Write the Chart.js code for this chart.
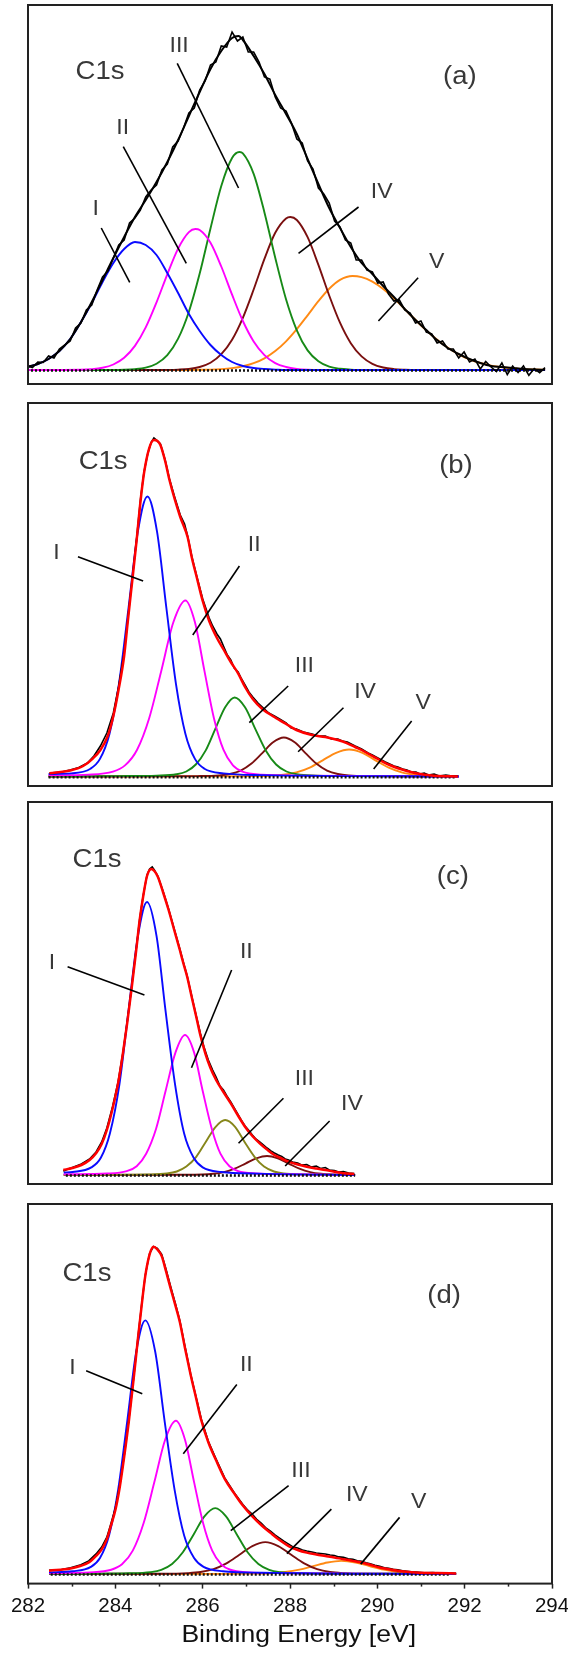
<!DOCTYPE html>
<html><head><meta charset="utf-8">
<script src="https://cdn.jsdelivr.net/npm/chart.js@4.4.1/dist/chart.umd.min.js"></script>
<style>
html,body{margin:0;padding:0;background:#fff;}
body{width:568px;height:1660px;position:relative;overflow:hidden;}
canvas{position:absolute;left:0;}
</style></head><body>
<canvas id="ca" width="568" height="394" style="top:0px"></canvas>
<canvas id="cb" width="568" height="400" style="top:394px"></canvas>
<canvas id="cc" width="568" height="400" style="top:794px"></canvas>
<canvas id="cd" width="600" height="466" style="top:1194px"></canvas>
<script>
// ---------- x axis ----------
const xMin = 282, xMax = 294;          // labelled axis
const xTickStep = 2;
const xTitle = 'Binding Energy [eV]';
const curveMin = 282.023, curveMax = 294.161;   // range spanned by the spectra inside each frame

// ---------- panel (a) ----------
const dataA = [[282,18],[282.125,16.5],[282.25,22],[282.375,21.5],[282.5,28],[282.625,26],[282.75,35],[282.875,39],[283,43],[283.125,56],[283.25,61],[283.375,74],[283.5,79],[283.625,94],[283.75,107],[283.875,113],[284,126],[284.125,139],[284.25,144],[284.375,161],[284.5,166],[284.625,174],[284.75,187],[284.875,194],[285,199],[285.125,214],[285.25,220],[285.375,237],[285.5,243],[285.625,256],[285.75,271],[285.875,276],[286,294],[286.125,303],[286.25,319],[286.375,322],[286.5,338],[286.625,337],[286.75,352],[286.875,343],[287,347],[287.125,332],[287.25,332],[287.375,322],[287.5,307],[287.625,305],[287.75,287],[287.875,276],[288,273],[288.125,261],[288.25,245],[288.375,241],[288.5,223],[288.625,215],[288.75,196],[288.875,190],[289,181],[289.125,163],[289.25,157],[289.375,144],[289.5,141],[289.625,124],[289.75,124],[289.875,114],[290,112],[290.125,101],[290.25,102],[290.375,90],[290.5,83],[290.625,84],[290.75,74],[290.875,71],[291,61],[291.125,63],[291.25,52],[291.375,50],[291.5,41],[291.625,43],[291.75,35],[291.875,35],[292,26],[292.125,32],[292.25,22],[292.375,25],[292.5,15],[292.625,22.5],[292.75,17],[292.875,12.5],[293,21],[293.125,9.5],[293.25,18],[293.375,11.5],[293.5,18],[293.625,8.7],[293.75,15.5],[293.875,11.4],[294,16.3]];
const fitA = [[282,17],[282.25,20],[282.5,25],[282.75,33],[283,45],[283.25,62],[283.5,82],[283.75,104],[284,126],[284.25,147],[284.5,167],[284.75,184],[285,202],[285.25,222],[285.5,244],[285.75,268],[286,292],[286.25,315],[286.5,333],[286.75,346],[286.9,348],[287,344],[287.25,328],[287.5,310],[287.75,289],[288,270],[288.25,250],[288.5,225],[288.75,200],[289,176],[289.25,156],[289.5,137],[289.75,121],[290,110],[290.25,98],[290.5,87],[290.75,75],[291,64],[291.25,54],[291.5,44],[291.75,36],[292,30],[292.25,25],[292.5,21],[292.75,18],[293,17],[293.25,16],[293.5,15],[293.75,14.5],[294,14.3]];
const pkA1 = [[282,17],[282.25,20],[282.5,25],[282.75,33],[283,45],[283.25,62],[283.5,81],[283.75,102],[284,121],[284.25,135],[284.5,142],[284.75,139],[285,129],[285.25,111],[285.5,91],[285.75,70],[286,53],[286.25,39],[286.5,29],[286.75,22],[287,18],[287.25,16],[287.5,15],[287.75,14.4],[288,14],[294,14]];
const pkA2 = [[282,14],[283.25,14.3],[283.5,14.8],[283.75,16.2],[284,19.5],[284.25,26.2],[284.5,38.1],[284.75,56.6],[285,81.6],[285.25,109.7],[285.5,135.4],[285.75,151.9],[285.9,155],[286,154],[286.25,141.3],[286.5,117.5],[286.75,89.3],[287,63],[287.25,42.6],[287.5,28.9],[287.75,20.9],[288,17],[288.25,15.1],[288.5,14.3],[288.75,14],[294,14]];
const pkA3 = [[282,14],[284,14],[284.25,14.2],[284.5,14.8],[284.75,16.3],[285,20.2],[285.25,28.8],[285.5,45.3],[285.75,72.3],[286,110.4],[286.25,155.5],[286.5,198],[286.75,226],[286.92,232],[287,230.7],[287.25,210.2],[287.5,171.6],[287.75,126.3],[288,84.8],[288.25,53.7],[288.5,33.6],[288.75,22.7],[289,17.3],[289.25,15.2],[289.5,14.4],[289.75,14],[294,14]];
const pkA4 = [[282,14],[285,14],[285.25,14.1],[285.5,14.4],[285.75,15.1],[286,17],[286.25,21.2],[286.5,29.8],[286.75,44.3],[287,66.2],[287.25,94.5],[287.5,125.1],[287.75,151.2],[288,165.6],[288.1,167],[288.25,164],[288.5,146.8],[288.75,119.1],[289,88.5],[289.25,61.3],[289.5,40.8],[289.75,27.6],[290,20.2],[290.25,16.5],[290.5,14.9],[290.75,14.3],[291,14],[294,14]];
const pkA5 = [[282,14],[285.75,14],[286,14.2],[286.25,14.4],[286.5,14.9],[286.75,15.9],[287,17.7],[287.25,20.8],[287.5,25.7],[287.75,32.9],[288,42.7],[288.25,54.9],[288.5,68.7],[288.75,82.8],[289,95.2],[289.25,104.1],[289.54,108],[289.75,106.8],[290,102.3],[290.25,95],[290.5,85.6],[290.75,74.9],[291,64],[291.25,53.6],[291.5,44.2],[291.75,36.2],[292,29.7],[292.25,24.7],[292.5,21],[292.75,18.4],[293,16.7],[293.25,15.6],[293.5,14.9],[293.75,14.5],[294,14.3]];
const baseA = [[282,13.5],[293.9,13.5]];
const textA = [['C1s',283.65,311.7],['(a)',291.89,307],['I',283.55,175],['II',284.17,255.7],['III',285.46,338.3],['IV',290.1,192],['V',291.36,122]];
const leadA = [[283.72,156,284.38,101.7],[284.23,237.3,285.69,120.7],[285.48,320.7,286.90,196],[289.68,177,288.29,130.7],[291.06,106.3,290.14,63]];

// ---------- panel (b) ----------
const dataB = [[282.52,13],[282.8,14],[283.0,16],[283.2,18.5],[283.4,23],[283.55,30],[283.7,40],[283.85,53],[284.0,73],[284.12,99],[284.25,133],[284.33,165],[284.45,212],[284.54,248],[284.63,287],[284.71,314],[284.8,333],[284.88,344],[284.94,348],[285.0,346],[285.09,342],[285.2,326],[285.3,307],[285.42,289],[285.55,271],[285.65,262],[285.72,250],[285.82,229],[285.93,210],[286.07,187],[286.22,168],[286.3,160],[286.4,152],[286.48,147],[286.56,139],[286.64,131],[286.72,126],[286.8,118],[286.89,114],[286.97,107],[287.05,101],[287.14,94],[287.23,89],[287.35,83],[287.45,79],[287.6,73],[287.73,70],[287.85,67],[288.0,63],[288.12,58],[288.24,57],[288.4,54],[288.6,52],[288.75,50],[288.91,50],[289.05,47],[289.2,47],[289.3,45],[289.42,44],[289.6,40],[289.75,37],[289.9,33],[290.0,31],[290.17,27],[290.3,24],[290.4,22],[290.5,20],[290.59,19],[290.7,17],[290.8,16],[290.9,14],[291.01,14],[291.1,12],[291.2,13],[291.3,11],[291.43,12],[291.55,10],[291.7,11],[291.85,10],[291.98,10]];
const fitB = [[282.52,12.7],[283.0,15.5],[283.3,20],[283.53,27.7],[283.7,36],[283.87,50],[284.0,70],[284.12,96],[284.25,130],[284.33,162.7],[284.45,210],[284.54,246],[284.63,285],[284.71,312.7],[284.83,337.7],[284.94,346],[285.02,345],[285.09,341],[285.2,325],[285.30,306],[285.42,287],[285.55,269],[285.72,249],[285.82,228],[285.93,209],[286.07,185],[286.22,165],[286.4,148],[286.56,136],[286.72,124],[286.89,112.7],[287.05,99],[287.23,87],[287.45,77],[287.73,69],[288.0,62],[288.24,56],[288.6,51],[288.91,49],[289.2,46],[289.42,42.7],[289.6,39],[289.75,36],[290.0,30],[290.17,26],[290.4,21],[290.59,17.7],[290.8,15],[291.01,12.7],[291.43,10.2],[291.98,9.5]];
const pkB1 = [[282.5,12],[283.03,12.6],[283.47,17.3],[283.69,27.1],[283.91,52.1],[284.13,102.2],[284.35,177.5],[284.57,254.8],[284.79,289.5],[285.01,254.8],[285.23,177.5],[285.45,102.2],[285.67,52.1],[285.89,27.1],[286.11,17.3],[286.55,12.6],[287.43,10.9],[292,9.5]];
const pkB2 = [[282.5,10.7],[283.43,11.4],[283.99,14.4],[284.27,20.6],[284.55,36.3],[284.83,67.8],[285.11,115.1],[285.39,163.7],[285.67,185.5],[285.89,163.7],[286.11,115.1],[286.33,67.8],[286.55,36.3],[286.77,20.6],[286.99,14.4],[287.43,11.4],[288.31,10.4],[292,9.5]];
const pkB3 = [[282.5,9.6],[284.11,9.9],[285.01,10.4],[285.46,11.7],[285.69,14.5],[285.91,21.5],[286.14,35.6],[286.36,56.9],[286.59,78.7],[286.81,88.5],[287.05,78.7],[287.29,56.9],[287.53,35.6],[287.77,21.5],[288.01,14.5],[288.25,11.7],[288.73,10.4],[289.69,9.9],[292,9.5]];
const pkB4 = [[282.5,9.5],[284.95,9.7],[285.95,9.9],[286.45,10.6],[286.7,12],[286.95,15.4],[287.2,22.4],[287.45,32.9],[287.7,43.7],[287.95,48.5],[288.2,43.7],[288.45,32.9],[288.7,22.4],[288.95,15.4],[289.2,12],[289.45,10.6],[289.95,9.9],[290.95,9.7],[292,9.5]];
const pkB5 = [[282.5,9.5],[285.8,9.6],[287.02,9.8],[287.63,10.3],[287.94,11.2],[288.24,13.6],[288.55,18.4],[288.85,25.7],[289.16,33.2],[289.46,36.5],[289.77,33.2],[290.07,25.7],[290.38,18.4],[290.68,13.6],[290.99,11.2],[291.29,10.3],[291.9,9.8],[292,9.7]];
const baseB = [[282.5,8.8],[291.95,8.8]];
const textB = [['C1s',283.72,324.3],['(b)',291.8,320],['I',282.65,232.7],['II',287.18,241],['III',288.33,120],['IV',289.72,94.3],['V',291.05,82.7]];
const leadB = [[283.18,229.3,284.69,205],[286.92,220,285.84,151],[288.05,100,287.15,63.3],[289.33,78.3,288.28,34.3],[290.91,65,290.03,17]];

// ---------- panel (c) ----------
const dataC = [[282.84,13],[283.05,16.5],[283.26,20],[283.45,25],[283.6,32],[283.73,42],[283.85,56],[283.98,77],[284.11,102],[284.22,131],[284.32,162],[284.43,199],[284.53,235],[284.61,265],[284.69,288],[284.78,309],[284.84,315],[284.9,317],[284.95,314],[285.03,308],[285.15,293],[285.28,275],[285.41,255],[285.54,235],[285.62,222],[285.71,208],[285.82,187],[285.92,168],[286.02,150],[286.1,137],[286.2,124],[286.3,114],[286.38,107],[286.47,98],[286.55,94],[286.63,88],[286.72,82],[286.8,76],[286.88,70],[286.96,64],[287.05,58],[287.13,54],[287.22,49],[287.3,45],[287.39,42],[287.48,39],[287.56,36],[287.65,33],[287.73,31],[287.82,29],[287.9,27.5],[287.98,25],[288.06,24],[288.15,22],[288.27,21],[288.36,19],[288.48,19.5],[288.58,17],[288.7,18],[288.8,15.5],[288.91,16.5],[289.0,14],[289.12,13.5],[289.22,12],[289.33,12.5],[289.45,11],[289.58,10.5]];
const fitC = [[282.84,14],[283.05,16],[283.26,19],[283.45,24],[283.6,30.7],[283.73,40],[283.85,54],[283.98,75],[284.11,100.7],[284.22,130],[284.32,160.7],[284.43,198],[284.53,234],[284.61,264],[284.69,287.3],[284.78,308],[284.88,315],[284.95,313],[285.03,307.3],[285.15,292],[285.28,274],[285.41,254],[285.54,234],[285.62,221],[285.71,207.3],[285.82,186],[285.92,167.3],[286.02,148],[286.13,130.7],[286.25,116],[286.38,104],[286.55,92],[286.72,80.7],[286.88,69],[287.05,57.3],[287.22,48],[287.39,40.7],[287.56,34.5],[287.73,29],[287.9,25.5],[288.06,22.3],[288.27,19.5],[288.48,17.3],[288.7,15.5],[288.91,14],[289.12,12.2],[289.33,10.7],[289.58,10]];
const pkC1 = [[282.85,11.5],[283.06,12],[283.49,16.6],[283.71,26.2],[283.92,50.5],[284.14,99.4],[284.35,172.8],[284.57,248.1],[284.78,282],[285.0,248.1],[285.21,172.8],[285.43,99.4],[285.64,50.5],[285.86,26.2],[286.07,16.6],[286.5,12],[287.36,10.4],[289.6,9]];
const pkC2 = [[282.85,9.7],[283.86,10.5],[284.31,12.9],[284.54,17.8],[284.76,30.3],[284.99,55.3],[285.21,93],[285.44,131.6],[285.66,149],[285.87,131.6],[286.07,93],[286.28,55.3],[286.48,30.3],[286.69,17.8],[286.89,12.9],[287.3,10.5],[288.12,9.7],[289.6,9]];
const pkC3 = [[282.85,9.1],[283.89,9.3],[284.79,9.6],[285.24,10.5],[285.47,12.5],[285.69,17.4],[285.92,27.2],[286.14,42],[286.37,57.2],[286.59,64],[286.82,57.2],[287.04,42],[287.27,27.2],[287.49,17.4],[287.72,12.5],[287.94,10.5],[288.39,9.6],[289.29,9.3],[289.6,9.1]];
const pkC4 = [[282.85,9],[285.56,9.2],[286.06,9.5],[286.31,10.2],[286.56,11.9],[286.81,15.3],[287.06,20.4],[287.31,25.6],[287.56,28],[287.81,25.6],[288.06,20.4],[288.31,15.3],[288.56,11.9],[288.81,10.2],[289.06,9.5],[289.56,9.2],[289.6,9.2]];
const baseC = [[282.9,8.5],[289.6,8.5]];
const textC = [['C1s',283.58,324],['(c)',291.73,306.7],['I',282.55,220.7],['II',287.0,231.7],['III',288.33,105.3],['IV',289.42,79.7]];
const leadC = [[282.94,217.3,284.72,189],[286.74,214,285.81,116.3],[287.94,85.7,286.90,40.7],[289.01,63,287.98,18]];

// ---------- panel (d) ----------
const dataD = [[282.51,13.5],[282.8,14.2],[283.01,16],[283.25,19],[283.43,23],[283.6,30],[283.73,37],[283.85,47],[283.94,60],[284.05,77],[284.15,100],[284.25,129],[284.36,166],[284.47,208],[284.57,249],[284.66,284],[284.74,312],[284.84,334],[284.93,341],[285.02,339],[285.12,333],[285.22,318],[285.33,300],[285.44,283],[285.54,266],[285.66,240],[285.79,212],[285.92,188],[286.04,166],[286.2,144],[286.38,126],[286.58,107],[286.8,92],[287.0,80],[287.1,75],[287.22,70],[287.32,65],[287.43,61],[287.54,56],[287.64,53],[287.75,49],[287.85,46],[287.95,43],[288.06,40],[288.16,37],[288.27,36],[288.38,34],[288.48,33],[288.6,32],[288.7,31],[288.8,30.5],[288.91,30],[289.02,29],[289.12,28.5],[289.22,27],[289.33,26.5],[289.44,25],[289.55,24.5],[289.65,23],[289.75,22.5],[289.85,21],[289.95,20],[290.06,18.5],[290.17,17.5],[290.28,16],[290.38,15.5],[290.48,14.5],[290.59,14],[290.7,13],[290.8,12.5],[290.9,12],[291.01,11.8],[291.2,11],[291.4,11.2],[291.6,10.5],[291.8,10.6],[291.94,10.3]];
const fitD = [[282.51,13],[283.01,15.3],[283.25,18],[283.43,21.3],[283.6,28],[283.73,34.7],[283.85,45],[283.94,58],[284.05,75],[284.15,98],[284.25,128],[284.36,164.7],[284.47,207],[284.57,248],[284.66,283],[284.74,311.3],[284.84,333],[284.93,340.7],[285.02,338],[285.12,331.3],[285.22,316],[285.33,298],[285.44,281],[285.54,264.7],[285.66,238],[285.79,211.3],[285.92,187],[286.04,164.7],[286.2,143],[286.38,124.7],[286.58,106],[286.8,91.3],[287.0,79],[287.22,68],[287.43,59],[287.64,51.3],[287.85,44],[288.06,38],[288.27,34],[288.48,31.3],[288.7,29.5],[288.91,28],[289.12,26.5],[289.33,24.7],[289.55,23],[289.75,21.3],[289.95,19],[290.17,16.3],[290.38,14.5],[290.59,13],[290.8,12],[291.01,11.3],[291.5,10.6],[291.94,10.3]];
const pkD1 = [[282.51,11.4],[283.06,12.5],[283.48,16.9],[283.69,25.9],[283.9,48.7],[284.11,94.6],[284.32,163.7],[284.53,234.5],[284.74,266.3],[284.97,234.5],[285.19,163.7],[285.42,94.6],[285.64,48.7],[285.87,25.9],[286.09,16.9],[286.54,12.5],[287.44,11],[291.94,9.7]];
const pkD2 = [[282.51,10.5],[283.45,11.4],[283.95,14],[284.2,19.5],[284.45,33.3],[284.7,61],[284.95,102.7],[285.2,145.5],[285.45,164.7],[285.66,145.5],[285.87,102.7],[286.08,61],[286.29,33.3],[286.5,19.5],[286.71,14],[287.13,11.4],[287.97,10.5],[291.94,9.7]];
const pkD3 = [[282.51,9.8],[283.36,10],[284.36,10.4],[284.86,11.6],[285.11,13.9],[285.36,19.8],[285.61,31.7],[285.86,49.7],[286.11,68],[286.36,76.3],[286.61,68],[286.86,49.7],[287.11,31.7],[287.36,19.8],[287.61,13.9],[287.86,11.6],[288.36,10.4],[289.36,10],[291.94,9.7]];
const pkD4 = [[282.51,9.7],[283.92,9.9],[285.12,10],[285.72,10.6],[286.02,11.7],[286.32,14.6],[286.62,20.4],[286.92,29.1],[287.22,38],[287.52,42],[287.82,38],[288.12,29.1],[288.42,20.4],[288.72,14.6],[289.02,11.7],[289.32,10.6],[289.92,10],[291.12,9.9],[291.94,9.7]];
const pkD5 = [[282.51,9.7],[286.68,9.85],[287.33,10.1],[287.66,10.5],[287.98,11.7],[288.31,14.1],[288.63,17.7],[288.96,21.4],[289.28,23],[289.61,21.4],[289.93,17.7],[290.26,14.1],[290.58,11.7],[290.91,10.5],[291.23,10.1],[291.88,9.85],[291.94,9.8]];
const baseD = [[282.55,9.2],[291.8,9.2]];
const textD = [['C1s',283.35,313],['(d)',291.53,291.3],['I',283.02,218],['II',287.0,221.3],['III',288.25,113.7],['IV',289.53,89.7],['V',290.95,83]];
const leadD = [[283.37,215.3,284.67,192],[286.86,201.3,285.62,131.3],[288.06,99,286.72,53.7],[289.05,75.3,288.02,30.3],[290.63,67,289.73,19.7]];

// ---------- styling ----------
const C = {blue:'#0a0aff', mag:'#ff00ff', green:'#178a17', olive:'#86861a', maroon:'#7a0f0f', orange:'#ff8a14', red:'#ff0000', black:'#000000'};
const FONT = '"Liberation Sans", Arial, Helvetica, sans-serif';
Chart.defaults.font.family = FONT;

function ds(pairs, color, width, order, opt) {
  return Object.assign({
    data: pairs.map(p => ({x: p[0], y: p[1]})),
    xAxisID: 'x2',
    borderColor: color, backgroundColor: color, borderWidth: width,
    pointRadius: 0, fill: false, order: order,
    cubicInterpolationMode: 'monotone', tension: 0
  }, opt || {});
}
function leaders(list) {
  return list.map(l => ds([[l[0], l[1]], [l[2], l[3]]], '#000', 1.6, 0, {cubicInterpolationMode: 'default', borderCapStyle: 'butt'}));
}
function stretchText(ctx, txt, px, py, size, sx, color) {
  ctx.save();
  ctx.fillStyle = color;
  ctx.font = size + 'px ' + FONT;
  ctx.textAlign = 'center';
  ctx.textBaseline = 'middle';
  ctx.translate(px, py);
  ctx.scale(sx, 1);
  ctx.fillText(txt, 0, 0);
  ctx.restore();
}

const deco = {
  id: 'deco',
  afterDatasetsDraw(chart, args, o) {
    const {ctx, chartArea: a, scales: {x, y}} = chart;
    ctx.save();
    o.texts.forEach(t => {
      const big = (t[0] === 'C1s' || t[0].startsWith('('));
      stretchText(ctx, t[0], x.getPixelForValue(t[1]), y.getPixelForValue(t[2]), big ? 25 : 22, big ? 1.1 : 1.05, '#383838');
    });
    ctx.strokeStyle = '#222';
    ctx.lineWidth = 2;
    ctx.strokeRect(a.left, a.top, a.right - a.left, a.bottom - a.top);
    if (o.axis) {
      ctx.lineWidth = 1.5;
      for (let v = xMin + 1; v < xMax; v += xTickStep) {
        const px = Math.round(x.getPixelForValue(v)) + 0.5;
        ctx.beginPath(); ctx.moveTo(px, a.bottom); ctx.lineTo(px, a.bottom + 3); ctx.stroke();
      }
      stretchText(ctx, xTitle, x.getPixelForValue(288.2), a.bottom + 52, 23.5, 1.13, '#111');
    }
    ctx.restore();
  }
};

function panel(id, H, pad, sets, texts, leads, withAxis) {
  const datasets = [
    ds(sets.p5 || [], C.orange, 1.9, 8),
    ds(sets.p4 || [], C.maroon, 1.9, 7),
    ds(sets.p3 || [], sets.c3 || C.green, 1.9, 6),
    ds(sets.p2 || [], C.mag, 1.9, 5),
    ds(sets.p1 || [], C.blue, 1.9, 4),
    ds(sets.base, '#111', 2.6, 3, {borderDash: [2, 2], cubicInterpolationMode: 'default'}),
    ds(sets.data, C.black, 1.6, 2, {cubicInterpolationMode: 'default'}),
    ds(sets.fit, sets.fitColor, sets.fitWidth, 1),
    ...leaders(leads)
  ];
  new Chart(document.getElementById(id), {
    type: 'line',
    data: {datasets},
    options: {
      responsive: false, animation: false, devicePixelRatio: 1,
      layout: {padding: pad},
      plugins: {legend: {display: false}, tooltip: {enabled: false}, deco: {texts, axis: withAxis}},
      scales: {
        x: withAxis ? {
          type: 'linear', min: xMin, max: xMax, position: 'bottom',
          ticks: {stepSize: xTickStep, autoSkip: false, maxRotation: 0, color: '#111', font: {size: 20.5}, padding: 5},
          grid: {drawOnChartArea: false, drawTicks: true, tickLength: 5, tickColor: '#222', tickWidth: 1.5},
          border: {display: false},
          title: {display: false}
        } : {type: 'linear', min: xMin, max: xMax, display: false},
        x2: {type: 'linear', axis: 'x', position: 'bottom', min: curveMin, max: curveMax, display: false},
        y: {min: 0, max: H, display: false}
      }
    },
    plugins: [deco]
  });
}

panel('ca', 379, {left: 28, right: 16, top: 5, bottom: 10},
  {p1: pkA1, p2: pkA2, p3: pkA3, p4: pkA4, p5: pkA5, base: baseA, data: dataA, fit: fitA, fitColor: '#000', fitWidth: 2}, textA, leadA, false);
panel('cb', 383, {left: 28, right: 16, top: 9, bottom: 8},
  {p1: pkB1, p2: pkB2, p3: pkB3, p4: pkB4, p5: pkB5, base: baseB, data: dataB, fit: fitB, fitColor: C.red, fitWidth: 2.5}, textB, leadB, false);
panel('cc', 382, {left: 28, right: 16, top: 8, bottom: 10},
  {p1: pkC1, p2: pkC2, p3: pkC3, c3: C.olive, p4: pkC4, base: baseC, data: dataC, fit: fitC, fitColor: C.red, fitWidth: 2.5}, textC, leadC, false);
panel('cd', 384, {left: 28, right: 48, top: 10, bottom: 36.8},
  {p1: pkD1, p2: pkD2, p3: pkD3, p4: pkD4, p5: pkD5, base: baseD, data: dataD, fit: fitD, fitColor: C.red, fitWidth: 2.5}, textD, leadD, true);
</script>
</body></html>
